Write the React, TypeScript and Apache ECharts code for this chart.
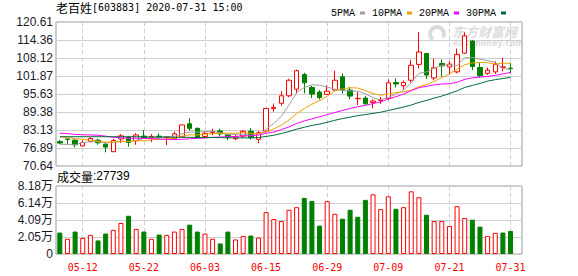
import React, { useEffect, useRef } from "react";
import * as echarts from "echarts";

const stockName = "老百姓";
const stockCode = "[603883]";
const timeStamp = "2020-07-31 15:00";
const lastVolume = 27739;

const dates = [
  "05-07","05-08","05-11","05-12","05-13","05-14","05-15","05-18","05-19","05-20",
  "05-21","05-22","05-25","05-26","05-27","05-28","05-29","06-01","06-02","06-03",
  "06-04","06-05","06-08","06-09","06-10","06-11","06-12","06-15","06-16","06-17",
  "06-18","06-19","06-22","06-23","06-24","06-29","06-30","07-01","07-02","07-03",
  "07-06","07-07","07-08","07-09","07-10","07-13","07-14","07-15","07-16","07-17",
  "07-20","07-21","07-22","07-23","07-24","07-27","07-28","07-29","07-30","07-31",
];

const opens = [
  79.1, 80.0, 79.6, 77.6, 79.1, 79.6, 78.2, 75.6, 80.0, 80.6,
  79.4, 81.0, 80.2, 81.0, 80.5, 80.1, 80.8, 85.3, 83.7, 80.9,
  82.2, 82.8, 81.5, 80.1, 81.0, 82.7, 79.9, 82.8, 90.6, 92.4,
  95.0, 97.3, 102.4, 97.9, 96.3, 95.5, 97.0, 101.6, 97.0, 94.0,
  94.2, 92.7, 93.4, 94.1, 99.6, 98.5, 100.4, 105.9, 109.7, 101.2,
  106.2, 105.0, 103.3, 109.8, 114.0, 104.8, 102.8, 103.3, 104.9, 104.6,
];
const closes = [
  78.6, 79.9, 78.0, 78.8, 80.2, 78.7, 77.2, 79.5, 81.1, 78.8,
  81.4, 80.4, 80.9, 80.7, 80.8, 81.8, 84.9, 83.7, 80.6, 82.0,
  82.5, 81.8, 80.7, 80.8, 82.7, 80.5, 82.2, 90.6, 91.0, 95.0,
  100.4, 103.7, 99.5, 95.6, 94.4, 96.6, 100.4, 97.0, 94.9, 94.1,
  92.2, 93.2, 93.6, 99.5, 99.1, 99.6, 105.6, 110.2, 102.2, 104.7,
  105.4, 106.0, 109.3, 115.8, 105.2, 102.0, 103.9, 105.9, 105.0, 104.4,
];
const lows = [
  78.2, 78.3, 77.1, 77.4, 78.9, 78.0, 75.4, 75.5, 78.6, 77.4,
  78.0, 80.1, 78.9, 79.7, 77.9, 79.7, 80.6, 82.9, 80.2, 80.2,
  81.3, 80.9, 79.6, 79.6, 80.4, 79.8, 78.5, 82.5, 89.5, 91.5,
  94.5, 95.8, 95.8, 94.2, 93.7, 95.4, 96.8, 95.8, 93.8, 91.8,
  92.0, 90.6, 92.2, 93.5, 97.9, 97.2, 99.6, 104.5, 100.8, 100.4,
  101.6, 102.5, 102.8, 109.5, 103.9, 101.2, 102.3, 102.6, 103.5, 102.8,
];
const highs = [
  79.7, 80.0, 79.9, 79.6, 80.6, 80.1, 78.9, 80.1, 81.7, 81.1,
  82.0, 83.1, 81.7, 82.0, 81.0, 82.6, 85.0, 87.2, 84.0, 82.6,
  83.6, 83.6, 81.6, 81.4, 83.1, 83.8, 82.8, 90.7, 92.3, 96.6,
  100.9, 104.1, 103.0, 98.5, 97.0, 98.6, 103.7, 102.8, 98.0, 96.4,
  94.9, 93.8, 94.6, 100.7, 101.0, 100.3, 107.4, 117.1, 109.8, 107.9,
  107.6, 107.0, 111.4, 117.0, 114.3, 106.4, 104.8, 107.0, 108.2, 106.5,
];
const volumes = [
  25800, 18300, 27000, 19400, 23000, 16300, 24600, 29000, 37300, 46000,
  30200, 27000, 18300, 23400, 23000, 27000, 30200, 35300, 27000, 24600,
  18300, 12700, 27000, 17500, 21800, 22200, 19800, 50400, 42100, 39700,
  53200, 56300, 67500, 63900, 34100, 63500, 48400, 42500, 53200, 44800,
  65100, 71800, 54000, 69400, 54400, 56300, 75400, 68300, 47200, 39700,
  39700, 33700, 57500, 43300, 41300, 32900, 21800, 25400, 25800, 27739,
];

const ma5 = [
  78.2, 78.1, 78.0, 78.8, 79.1, 79.1, 78.6, 78.9, 79.3, 79.1,
  79.6, 80.2, 80.5, 80.4, 80.8, 80.9, 81.8, 82.4, 82.4, 82.6,
  82.7, 82.1, 81.5, 81.6, 81.7, 81.3, 81.4, 83.4, 85.4, 87.9,
  91.8, 96.1, 97.9, 98.8, 98.7, 98.0, 97.3, 96.8, 96.7, 96.6,
  95.7, 94.3, 93.6, 94.5, 95.5, 97.0, 99.5, 102.8, 103.3, 104.5,
  105.6, 105.7, 105.5, 108.2, 108.3, 107.7, 107.2, 106.6, 104.4, 104.2,
];
const ma10 = [
  80.8, 80.5, 80.1, 79.9, 79.6, 79.2, 78.9, 78.9, 79.1, 79.1,
  79.4, 79.4, 79.7, 79.9, 80.0, 80.3, 81.0, 81.5, 81.4, 81.7,
  81.8, 82.0, 82.0, 82.0, 82.2, 82.0, 81.8, 82.4, 83.5, 84.8,
  86.6, 88.8, 90.6, 92.1, 93.3, 94.9, 96.7, 97.4, 97.8, 97.7,
  96.8, 95.8, 95.2, 95.6, 96.1, 96.4, 96.9, 98.2, 98.9, 100.0,
  101.3, 102.6, 104.2, 105.8, 106.4, 106.6, 106.5, 106.0, 106.3, 106.3,
];
const ma20 = [
  82.0, 81.9, 81.6, 81.5, 81.4, 81.3, 81.0, 80.6, 80.4, 80.3,
  80.3, 80.2, 80.2, 80.0, 79.9, 79.8, 79.9, 80.1, 80.2, 80.4,
  80.6, 80.7, 80.8, 80.9, 81.1, 81.1, 81.4, 82.0, 82.4, 83.3,
  84.2, 85.4, 86.3, 87.0, 87.7, 88.5, 89.2, 89.9, 90.6, 91.2,
  91.7, 92.3, 92.9, 93.9, 94.7, 95.6, 96.8, 97.8, 98.3, 98.8,
  99.1, 99.2, 99.7, 100.7, 101.2, 101.5, 101.7, 102.1, 102.6, 103.1,
];
const ma30 = [
  80.8, 80.8, 80.8, 80.8, 80.8, 80.8, 80.8, 80.8, 80.8, 80.8,
  80.8, 80.7, 80.7, 80.7, 80.7, 80.6, 80.6, 80.6, 80.5, 80.5,
  80.5, 80.5, 80.4, 80.4, 80.4, 80.4, 80.5, 80.9, 81.3, 81.9,
  82.6, 83.4, 84.1, 84.7, 85.2, 85.8, 86.5, 87.1, 87.6, 88.1,
  88.5, 88.9, 89.3, 89.9, 90.5, 91.1, 91.8, 92.7, 93.4, 94.2,
  94.9, 95.8, 96.7, 97.9, 98.6, 99.3, 100.1, 100.6, 101.0, 101.4,
];

const priceTickLabels = ["70.64", "76.89", "83.13", "89.38", "95.63", "101.87", "108.12", "114.36", "120.61"];
const PRICE_MIN = 70.64;
const PRICE_MAX = 120.61;
const volTickLabels = ["0", "2.05万", "4.09万", "6.14万", "8.18万"];
const VOL_STEP = 20450;
const VOL_MAX = 81800;

const maNames = ["5PMA", "10PMA", "20PMA", "30PMA"];
const maColors = ["#a0a0a0", "#f0a000", "#ff00ff", "#006b3c"];

export default function App() {
  const ref = useRef<HTMLDivElement>(null);

  useEffect(() => {
    const chart = echarts.init(ref.current!, null, { renderer: "svg" });
    const cats = [...dates, ""];
    const isLabel = (i: number) => i < dates.length && i % 8 === 3;

    const candleData = dates.map((_, i) => [opens[i], closes[i], lows[i], highs[i]]);
    const volData = volumes.map((v, i) => {
      const up = i === 0 ? closes[i] >= opens[i] : closes[i] > closes[i - 1];
      return {
        value: v,
        itemStyle: {
          color: up ? "#ffffff" : "#008000",
          borderColor: up ? "#ff0000" : "#008000",
          borderWidth: 1,
        },
      };
    });
    const maData = [ma5, ma10, ma20, ma30];

    const gridLine = { lineStyle: { color: "#cfcfcf", width: 1 } };
    const dashLine = { lineStyle: { color: "#cfcfcf", width: 1, type: [4, 3] as any } };
    const wm = "rgba(190,190,190,0.55)";

    const option: any = {
      animation: false,
      backgroundColor: "#ffffff",
      legend: {
        data: maNames,
        right: 67,
        top: 3,
        align: "right",
        icon: "rect",
        itemWidth: 5,
        itemHeight: 3,
        itemGap: 7,
        textStyle: { fontFamily: "Liberation Mono", fontSize: 10, color: "#000" },
      },
      graphic: [
        {
          type: "text",
          left: 56,
          top: 1,
          style: {
            text: `{a|${stockName}}{b|${stockCode} ${timeStamp}}`,
            rich: {
              a: { fontFamily: "Noto Sans CJK SC", fontSize: 12, fill: "#000" },
              b: { fontFamily: "DejaVu Sans Mono", fontSize: 10, fill: "#000" },
            },
          },
        },
        {
          type: "text",
          left: 57,
          top: 170,
          style: {
            text: `{a|成交量}{b|:${lastVolume}}`,
            rich: {
              a: { fontFamily: "Noto Sans CJK SC", fontSize: 12, fill: "#000" },
              b: { fontFamily: "Liberation Sans", fontSize: 12, fill: "#000" },
            },
          },
        },
        {
          type: "arc",
          z: 0,
          shape: { cx: 437, cy: 34, r: 7, startAngle: 2.2, endAngle: 6.8 },
          style: { stroke: wm, lineWidth: 4, fill: "none" },
        },
        {
          type: "text",
          z: 0,
          left: 452,
          top: 24,
          style: {
            text: "东方财富网",
            fontFamily: "Noto Sans CJK SC",
            fontSize: 13,
            lineHeight: 14,
            fontWeight: "bold",
            fontStyle: "italic",
            fill: wm,
          },
        },
        {
          type: "text",
          z: 0,
          left: 453,
          top: 39,
          style: {
            text: "eastmoney.com",
            fontFamily: "DejaVu Sans",
            fontSize: 8,
            lineHeight: 9,
            fontWeight: "bold",
            fill: wm,
          },
        },
      ],
      grid: [
        { left: 56, right: 56, top: 22, height: 144, show: true, borderColor: "#999", borderWidth: 1, backgroundColor: "transparent" },
        { left: 56, right: 56, top: 186, height: 68, show: true, borderColor: "#999", borderWidth: 1, backgroundColor: "transparent" },
      ],
      xAxis: [
        {
          type: "category",
          gridIndex: 0,
          data: cats,
          boundaryGap: true,
          axisLine: { show: false },
          axisTick: { show: false },
          axisLabel: { show: false },
          splitLine: { show: true, interval: (i: number) => isLabel(i), alignWithLabel: true, ...dashLine },
        },
        {
          type: "category",
          gridIndex: 1,
          data: cats,
          boundaryGap: true,
          axisLine: { show: false },
          axisTick: { show: false },
          axisLabel: {
            interval: (i: number) => isLabel(i),
            color: "#ff0000",
            fontFamily: "DejaVu Sans Mono",
            fontSize: 10,
            margin: 8,
          },
          splitLine: { show: true, interval: (i: number) => isLabel(i), alignWithLabel: true, ...dashLine },
        },
      ],
      yAxis: [
        {
          type: "value",
          gridIndex: 0,
          position: "left",
          min: PRICE_MIN,
          max: PRICE_MAX,
          show: false,
        },
        {
          type: "value",
          gridIndex: 1,
          position: "left",
          min: 0,
          max: VOL_MAX,
          interval: VOL_STEP,
          axisLine: { show: false },
          axisTick: { show: false },
          axisLabel: {
            formatter: (v: number) => volTickLabels[Math.round(v / VOL_STEP)] ?? "",
            color: "#1a1a2a",
            fontFamily: "Liberation Sans, Noto Sans CJK SC",
            fontSize: 12,
            margin: 3,
          },
          splitLine: { show: true, ...gridLine },
        },
        {
          type: "category",
          gridIndex: 0,
          position: "left",
          data: priceTickLabels,
          boundaryGap: false,
          axisLine: { show: false },
          axisTick: { show: false },
          axisLabel: {
            interval: 0,
            color: "#1a1a2a",
            fontFamily: "Liberation Sans",
            fontSize: 12,
            margin: 3,
          },
          splitLine: { show: true, interval: 0, ...gridLine },
        },
      ],
      series: [
        {
          type: "candlestick",
          xAxisIndex: 0,
          yAxisIndex: 0,
          data: candleData,
          barWidth: 5,
          z: 3,
          itemStyle: {
            color: "#ffffff",
            color0: "#008000",
            borderColor: "#ff0000",
            borderColor0: "#008000",
            borderWidth: 1,
          },
        },
        ...maData.map((d, k) => ({
          name: maNames[k],
          type: "line",
          xAxisIndex: 0,
          yAxisIndex: 0,
          data: d,
          showSymbol: false,
          symbol: "none",
          z: 4,
          color: maColors[k],
          lineStyle: { width: 1, color: maColors[k] },
        })),
        {
          type: "bar",
          xAxisIndex: 1,
          yAxisIndex: 1,
          data: volData,
          barWidth: 5,
        },
      ],
    };

    chart.setOption(option);
    return () => chart.dispose();
  }, []);

  return (
    <div
      ref={ref}
      style={{ position: "fixed", left: 0, top: 0, width: 578, height: 276, background: "#fff" }}
    />
  );
}
